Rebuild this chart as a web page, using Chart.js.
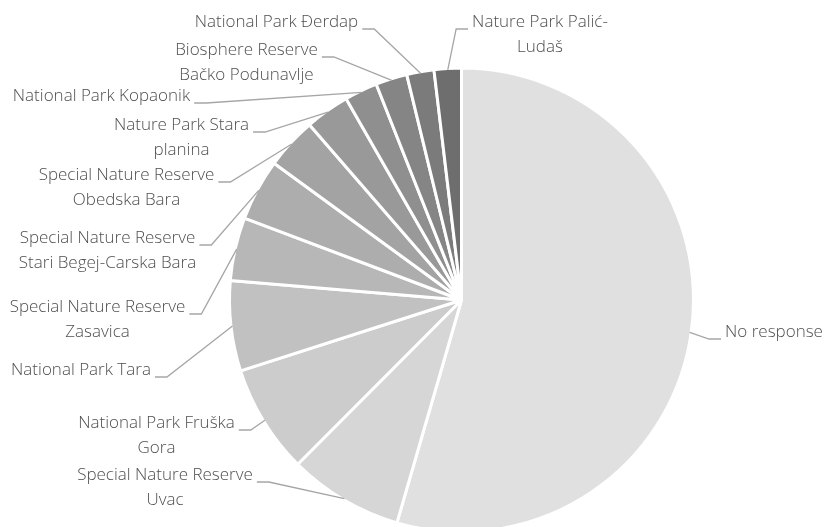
<!DOCTYPE html>
<html><head><meta charset="utf-8">
<script src="https://cdn.jsdelivr.net/npm/chart.js@4/dist/chart.umd.min.js"></script>
<style>html,body{margin:0;padding:0;background:#fff;overflow:hidden}#wrap{position:relative;width:826px;height:527px}</style>
</head><body><div id="wrap"><canvas id="c" width="826" height="527"></canvas></div>
<script>
// ---- data ----
const categories = [
  "No response",
  "Special Nature Reserve Uvac",
  "National Park Fruška Gora",
  "National Park Tara",
  "Special Nature Reserve Zasavica",
  "Special Nature Reserve Stari Begej-Carska Bara",
  "Special Nature Reserve Obedska Bara",
  "Nature Park Stara planina",
  "National Park Kopaonik",
  "Biosphere Reserve Bačko Podunavlje",
  "National Park Đerdap",
  "Nature Park Palić-Ludaš"
];
const values = [54.6, 8.0, 7.6, 6.3, 4.4, 4.3, 3.6, 3.1, 2.3, 2.2, 1.9, 1.9];
const labelLines = [
  ["No response"],
  ["Special Nature Reserve", "Uvac"],
  ["National Park Fruška", "Gora"],
  ["National Park Tara"],
  ["Special Nature Reserve", "Zasavica"],
  ["Special Nature Reserve", "Stari Begej-Carska Bara"],
  ["Special Nature Reserve", "Obedska Bara"],
  ["Nature Park Stara", "planina"],
  ["National Park Kopaonik"],
  ["Biosphere Reserve", "Bačko Podunavlje"],
  ["National Park Đerdap"],
  ["Nature Park Palić-", "Ludaš"]
];
// ---- style / layout ----
const colors = ["#e0e0e0","#d6d6d6","#cccccc","#c1c1c1","#b7b7b7","#adadad","#a3a3a3","#999999","#8f8f8f","#858585","#7b7b7b","#6e6e6e"];
// [text block centre x, first baseline y, side of text relative to its leader]
const labelPos = [
  [774, 337, "R"],
  [165, 480, "L"],
  [156.5, 428, "L"],
  [81, 375, "L"],
  [97.5, 312, "L"],
  [107.5, 243, "L"],
  [126.5, 180, "L"],
  [181.5, 130, "L"],
  [101.5, 101, "L"],
  [246.5, 55, "L"],
  [276.5, 27, "L"],
  [540, 27, "R"]
];
const FONT = '300 17px "Open Sans"';
const LINE_H = 25;

const labelPlugin = {
  id: 'outLabels',
  afterDatasetsDraw(chart) {
    const ctx = chart.ctx;
    const meta = chart.getDatasetMeta(0);
    ctx.save();
    ctx.font = FONT;
    meta.data.forEach((arc, i) => {
      const p = arc.getProps(['x','y','startAngle','endAngle','outerRadius'], true);
      const mid = (p.startAngle + p.endAngle) / 2;
      const r = p.outerRadius - 1.5;
      const ax = p.x + Math.cos(mid) * r, ay = p.y + Math.sin(mid) * r;
      const [cx, by, side] = labelPos[i];
      const lines = labelLines[i];
      const w1 = ctx.measureText(lines[0]).width;
      const ly = by + 2;
      let x0, x1;
      if (side === "L") { x0 = cx + w1/2 + 4; x1 = x0 + 12; }
      else { x0 = cx - w1/2 - 4; x1 = x0 - 12; }
      ctx.strokeStyle = '#a6a6a6';
      ctx.lineWidth = 1.3;
      ctx.beginPath();
      ctx.moveTo(x0, ly); ctx.lineTo(x1, ly); ctx.lineTo(ax, ay);
      ctx.stroke();
      ctx.fillStyle = '#4f4f4f';
      ctx.textAlign = 'center';
      ctx.textBaseline = 'alphabetic';
      lines.forEach((t, k) => ctx.fillText(t, cx, by + k * LINE_H));
    });
    ctx.restore();
  }
};

new Chart(document.getElementById('c'), {
  type: 'pie',
  data: {
    labels: categories,
    datasets: [{
      data: values,
      backgroundColor: colors,
      borderColor: '#ffffff',
      borderWidth: 3,
      clip: false
    }]
  },
  options: {
    responsive: false,
    animation: false,
    radius: 232,
    layout: { padding: { left: 231, right: 134, top: 73, bottom: 0 } },
    plugins: { legend: { display: false }, tooltip: { enabled: false } }
  },
  plugins: [labelPlugin]
});
</script></body></html>
